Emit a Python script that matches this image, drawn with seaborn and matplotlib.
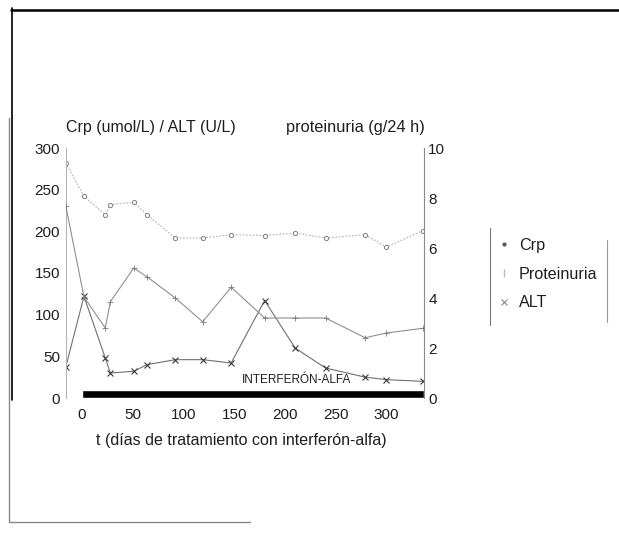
import matplotlib
matplotlib.use("Agg")
import matplotlib.pyplot as plt
from matplotlib.lines import Line2D
import seaborn as sns
import pandas as pd

# ---- data ----
dias = [-16, 2, 23, 28, 51, 64, 92, 119, 147, 180, 210, 240, 279, 300, 336]
crp = [282, 242, 220, 232, 235, 220, 192, 192, 196, 195, 198, 192, 196, 181, 201]
proteinuria = [7.7, 4.04, 2.8, 3.85, 5.2, 4.85, 4.0, 3.05, 4.43, 3.2, 3.2, 3.2, 2.41, 2.6, 2.79]
alt = [37, 122, 48, 30, 32, 40, 46, 46, 42, 117, 60, 36, 25, 22, 20]

x_ticks = [0, 50, 100, 150, 200, 250, 300]
y_left_ticks = [0, 50, 100, 150, 200, 250, 300]
y_right_ticks = [0, 2, 4, 6, 8, 10]

tratamiento_inicio = 0
tratamiento_fin = 337
tratamiento_label = "INTERFERÓN-ALFA"

df = pd.DataFrame({"dias": dias, "crp": crp, "proteinuria": proteinuria, "alt": alt})

sns.set_theme(style="white")
plt.rcParams['font.family'] = ['Liberation Sans', 'DejaVu Sans']

W, H = 619, 533
fig = plt.figure(figsize=(W / 100, H / 100), dpi=100)
fig.patch.set_facecolor("white")

axL, axR, axB, axT = 65.7, 424, 398, 148
ax = fig.add_axes([axL / W, 1 - axB / H, (axR - axL) / W, (axB - axT) / H])
ax2 = ax.twinx()

txt = "#1e1e1e"

# Crp (left axis)
sns.lineplot(data=df, x="dias", y="crp", ax=ax, color="#b0b0b0", lw=0.8,
             linestyle=(0, (1.5, 1.5)), marker="o", markersize=3,
             markerfacecolor="white", markeredgecolor="#808080", markeredgewidth=0.7)
# ALT (left axis)
sns.lineplot(data=df, x="dias", y="alt", ax=ax, color="#707070", lw=0.8,
             marker="x", markersize=4.5, markeredgecolor="#3a3a3a", markeredgewidth=0.8)
# Proteinuria (right axis)
sns.lineplot(data=df, x="dias", y="proteinuria", ax=ax2, color="#909090", lw=0.8,
             marker="+", markersize=4, markeredgecolor="#7a7a7a", markeredgewidth=0.6)

# treatment bar
ax.barh(y=[0], width=[tratamiento_fin - tratamiento_inicio], left=[tratamiento_inicio],
        height=10, align="edge", color="black", zorder=5)
ax.text(265.5, 21.6, tratamiento_label, ha="right", va="center", fontsize=8.5,
        color=txt)

ax.set_xlim(-16, 337)
ax.set_ylim(0, 300)
ax2.set_ylim(0, 10)
ax.set_xticks(x_ticks)
ax.set_yticks(y_left_ticks)
ax2.set_yticks(y_right_ticks)
ax.set_xlabel("")
ax.set_ylabel("")
ax2.set_ylabel("")

for a in (ax, ax2):
    for s in a.spines.values():
        s.set_visible(False)
    a.grid(False)
    a.set_facecolor("none")
ax.spines["left"].set_visible(True)
ax.spines["left"].set_color("#b5b5b5")
ax.spines["left"].set_linewidth(0.8)
ax2.spines["right"].set_visible(True)
ax2.spines["right"].set_color("#8a8a8a")
ax2.spines["right"].set_linewidth(0.8)

ax.tick_params(axis="x", length=0, pad=7, labelsize=11, colors=txt)
ax.tick_params(axis="y", length=0, pad=4, labelsize=11, colors=txt)
ax2.tick_params(axis="y", length=0, pad=3, labelsize=11, colors=txt)

# axis titles
fig.text(66 / W, 1 - 127 / H, "Crp (umol/L) / ALT (U/L)", ha="left", va="center",
         fontsize=11.5, color=txt)
fig.text(425 / W, 1 - 127 / H, "proteinuria (g/24 h)", ha="right", va="center",
         fontsize=11.8, color=txt)
fig.text(241.5 / W, 1 - 440 / H, "t (días de tratamiento con interferón-alfa)",
         ha="center", va="center", fontsize=11.5, color=txt)

# legend
handles = [
    Line2D([], [], linestyle="none", marker=".", markersize=4, color="#555555"),
    Line2D([], [], linestyle="none", marker="|", markersize=6, color="#bbbbbb"),
    Line2D([], [], linestyle="none", marker="x", markersize=4.5, color="#777777",
           markeredgewidth=0.7),
]
fig.legend(handles, ["Crp", "Proteinuria", "ALT"], loc="upper left",
           bbox_to_anchor=(497 / W, 1 - 238 / H), frameon=False, fontsize=11.6,
           borderpad=0, borderaxespad=0, handlelength=0.9, handletextpad=0.45,
           labelspacing=0.85, labelcolor=txt)
fig.add_artist(Line2D([490 / W, 490 / W], [1 - 228 / H, 1 - 325 / H], color="#777777", lw=0.8))
fig.add_artist(Line2D([607 / W, 607 / W], [1 - 240 / H, 1 - 322 / H], color="#999999", lw=0.8))

# page frame
fig.add_artist(Line2D([11 / W, 1.0], [1 - 10 / H, 1 - 10 / H], color="black", lw=1.8))
fig.add_artist(Line2D([12 / W, 12 / W], [1 - 8 / H, 1 - 400 / H], color="black", lw=1.2))
fig.add_artist(Line2D([9 / W, 9 / W], [1 - 118 / H, 1 - 522 / H], color="#888888", lw=1.0))
fig.add_artist(Line2D([9 / W, 250 / W], [1 - 522 / H, 1 - 522 / H], color="#888888", lw=1.0))

fig.savefig("out.png", dpi=100, facecolor="white")
